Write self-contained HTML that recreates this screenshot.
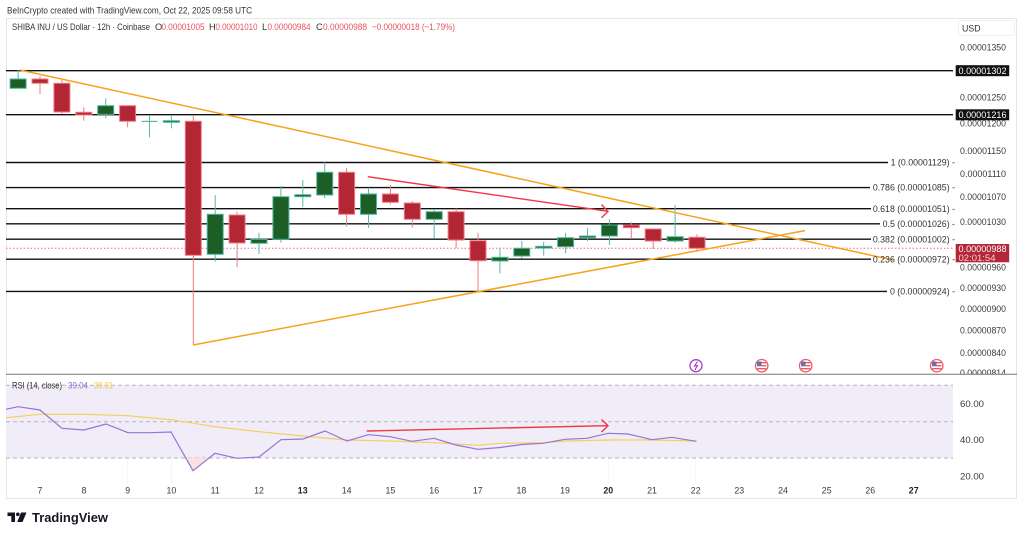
<!DOCTYPE html>
<html><head><meta charset="utf-8"><style>
html,body{margin:0;padding:0;background:#fff;}
svg{display:block;font-family:"Liberation Sans",Arial,sans-serif;}
</style></head><body>
<svg width="1024" height="537" viewBox="0 0 1024 537" xmlns="http://www.w3.org/2000/svg">
<defs>
<clipPath id="pp"><rect x="6" y="18" width="947" height="356"/></clipPath>
<clipPath id="ax"><rect x="953" y="18" width="70" height="356"/></clipPath>
</defs>
<rect width="1024" height="537" fill="#fff"/>
<!-- header -->
<text x="7" y="13.5" font-size="9.5" fill="#333" textLength="245" lengthAdjust="spacingAndGlyphs">BeInCrypto created with TradingView.com, Oct 22, 2025 09:58 UTC</text>
<!-- outer border -->
<rect x="6.5" y="18.5" width="1010" height="480" fill="none" stroke="#e6e6e6" stroke-width="1"/>

<!-- OHLC line -->
<g font-size="9.3">
<text x="12" y="30" fill="#333" textLength="138" lengthAdjust="spacingAndGlyphs">SHIBA INU / US Dollar · 12h · Coinbase</text>
<text x="155" y="30" fill="#333">O</text><text x="161.5" y="30" fill="#e8505c" textLength="43" lengthAdjust="spacingAndGlyphs">0.00001005</text>
<text x="209" y="30" fill="#333">H</text><text x="215.5" y="30" fill="#e8505c" textLength="42" lengthAdjust="spacingAndGlyphs">0.00001010</text>
<text x="262" y="30" fill="#333">L</text><text x="267.5" y="30" fill="#e8505c" textLength="43" lengthAdjust="spacingAndGlyphs">0.00000984</text>
<text x="316" y="30" fill="#333">C</text><text x="323" y="30" fill="#e8505c" textLength="44" lengthAdjust="spacingAndGlyphs">0.00000988</text>
<text x="372" y="30" fill="#e8505c" textLength="83" lengthAdjust="spacingAndGlyphs">−0.00000018 (−1.79%)</text>
</g>

<!-- USD box -->
<rect x="958.5" y="20.5" width="56" height="15" rx="3" fill="#fff" stroke="#f0f0f0"/>
<text x="962" y="31.5" font-size="8.8" fill="#333">USD</text>

<!-- price axis labels -->
<g clip-path="url(#ax)" font-size="8.8" fill="#3a3a3a">
<text x="960" y="50.5" textLength="46" lengthAdjust="spacingAndGlyphs">0.00001350</text>
<text x="960" y="100.5" textLength="46" lengthAdjust="spacingAndGlyphs">0.00001250</text>
<text x="960" y="126.3" textLength="46" lengthAdjust="spacingAndGlyphs">0.00001200</text>
<text x="960" y="154" textLength="46" lengthAdjust="spacingAndGlyphs">0.00001150</text>
<text x="960" y="177.2" textLength="46" lengthAdjust="spacingAndGlyphs">0.00001110</text>
<text x="960" y="200" textLength="46" lengthAdjust="spacingAndGlyphs">0.00001070</text>
<text x="960" y="225" textLength="46" lengthAdjust="spacingAndGlyphs">0.00001030</text>
<text x="960" y="270.5" textLength="46" lengthAdjust="spacingAndGlyphs">0.00000960</text>
<text x="960" y="291" textLength="46" lengthAdjust="spacingAndGlyphs">0.00000930</text>
<text x="960" y="312.2" textLength="46" lengthAdjust="spacingAndGlyphs">0.00000900</text>
<text x="960" y="333.5" textLength="46" lengthAdjust="spacingAndGlyphs">0.00000870</text>
<text x="960" y="356.2" textLength="46" lengthAdjust="spacingAndGlyphs">0.00000840</text>
<text x="960" y="376" textLength="46" lengthAdjust="spacingAndGlyphs">0.00000814</text>
</g>
<!-- price boxes -->
<rect x="955.7" y="65.2" width="53.5" height="11" fill="#111"/>
<text x="958.5" y="74" font-size="8.8" fill="#fff" textLength="48" lengthAdjust="spacingAndGlyphs">0.00001302</text>
<rect x="955.7" y="109.3" width="53.5" height="11" fill="#111"/>
<text x="958.5" y="118" font-size="8.8" fill="#fff" textLength="48" lengthAdjust="spacingAndGlyphs">0.00001216</text>
<rect x="955.7" y="244" width="53.5" height="18.3" fill="#b2283a"/>
<text x="958.5" y="252" font-size="8.8" fill="#fff" textLength="48" lengthAdjust="spacingAndGlyphs">0.00000988</text>
<text x="958.5" y="261" font-size="8.8" fill="#f3d0d4" textLength="37" lengthAdjust="spacingAndGlyphs">02:01:54</text>

<!-- price pane -->
<g clip-path="url(#pp)">
<!-- horizontal price lines -->
<g stroke="#111" stroke-width="1.4">
<line x1="6" y1="70.7" x2="955" y2="70.7"/>
<line x1="6" y1="114.7" x2="955" y2="114.7"/>
<line x1="6" y1="162.5" x2="888" y2="162.5"/>
<line x1="6" y1="187.6" x2="870" y2="187.6"/>
<line x1="6" y1="208.7" x2="871" y2="208.7"/>
<line x1="6" y1="223.8" x2="880" y2="223.8"/>
<line x1="6" y1="239.2" x2="871" y2="239.2"/>
<line x1="6" y1="259.2" x2="871" y2="259.2"/>
<line x1="6" y1="291.4" x2="887" y2="291.4"/>
</g>
<line x1="6" y1="248.3" x2="955" y2="248.3" stroke="#e8707a" stroke-width="1" stroke-dasharray="1.5,2"/>

<!-- candles -->
<g stroke-width="1">
<!-- wicks -->
<g stroke="#5ab8a4">
<line x1="18.1" y1="70" x2="18.1" y2="88.3"/>
<line x1="105.7" y1="98.3" x2="105.7" y2="118.3"/>
<line x1="149.5" y1="115" x2="149.5" y2="137.3"/>
<line x1="171.4" y1="115" x2="171.4" y2="128.3"/>
<line x1="215.2" y1="195" x2="215.2" y2="261.7"/>
<line x1="259" y1="232.7" x2="259" y2="254"/>
<line x1="280.9" y1="186" x2="280.9" y2="242.7"/>
<line x1="302.8" y1="180" x2="302.8" y2="206.7"/>
<line x1="324.7" y1="162.3" x2="324.7" y2="198.3"/>
<line x1="368.5" y1="187.7" x2="368.5" y2="227.7"/>
<line x1="434.2" y1="210" x2="434.2" y2="238.3"/>
<line x1="499.9" y1="247.7" x2="499.9" y2="273.3"/>
<line x1="521.8" y1="241" x2="521.8" y2="258.3"/>
<line x1="543.7" y1="241.7" x2="543.7" y2="255.7"/>
<line x1="565.6" y1="232.7" x2="565.6" y2="253.3"/>
<line x1="587.5" y1="228.3" x2="587.5" y2="241"/>
<line x1="609.4" y1="219.3" x2="609.4" y2="245"/>
<line x1="675.1" y1="205" x2="675.1" y2="242.7"/>
</g>
<g stroke="#f07884">
<line x1="40" y1="76" x2="40" y2="94.3"/>
<line x1="61.9" y1="80" x2="61.9" y2="114"/>
<line x1="83.8" y1="107.3" x2="83.8" y2="120.7"/>
<line x1="127.6" y1="105.7" x2="127.6" y2="127.3"/>
<line x1="193.3" y1="116" x2="193.3" y2="345"/>
<line x1="237.1" y1="211.7" x2="237.1" y2="267.3"/>
<line x1="346.6" y1="167.7" x2="346.6" y2="226.7"/>
<line x1="390.4" y1="185" x2="390.4" y2="204.3"/>
<line x1="412.3" y1="201" x2="412.3" y2="227.7"/>
<line x1="456.1" y1="208.3" x2="456.1" y2="248.3"/>
<line x1="478" y1="232.7" x2="478" y2="291.5"/>
<line x1="631.3" y1="222.3" x2="631.3" y2="239"/>
<line x1="653.2" y1="229" x2="653.2" y2="249"/>
<line x1="697" y1="234.3" x2="697" y2="251.7"/>
</g>
<!-- green bodies -->
<g fill="#1d5e27" stroke="#4db6a0">
<rect x="10.1" y="79" width="16" height="9.3"/>
<rect x="97.7" y="105.7" width="16" height="8.6"/>
<rect x="163.4" y="120.7" width="16" height="1.6"/>
<rect x="207.2" y="214.3" width="16" height="40"/>
<rect x="251" y="239.3" width="16" height="4"/>
<rect x="272.9" y="196.7" width="16" height="42.6"/>
<rect x="294.8" y="194.7" width="16" height="2"/>
<rect x="316.7" y="172.3" width="16" height="22.7"/>
<rect x="360.5" y="194" width="16" height="20.3"/>
<rect x="426.2" y="211.7" width="16" height="7.6"/>
<rect x="491.9" y="257.3" width="16" height="3.7"/>
<rect x="513.8" y="248.3" width="16" height="7.7"/>
<rect x="535.7" y="246.3" width="16" height="1.7"/>
<rect x="557.6" y="237.7" width="16" height="9"/>
<rect x="579.5" y="236" width="16" height="1.7"/>
<rect x="601.4" y="225" width="16" height="11"/>
<rect x="667.1" y="236.7" width="16" height="4.3"/>
</g>
<rect x="141.5" y="120.8" width="16" height="1.2" fill="#5ab8a4"/>
<!-- red bodies -->
<g fill="#b32735" stroke="#f27a86">
<rect x="32" y="79" width="16" height="4.3"/>
<rect x="53.9" y="83.3" width="16" height="28.7"/>
<rect x="75.8" y="112.3" width="16" height="2.7"/>
<rect x="119.6" y="105.7" width="16" height="15.6"/>
<rect x="185.3" y="121.3" width="16" height="134"/>
<rect x="229.1" y="215" width="16" height="28"/>
<rect x="338.6" y="172.3" width="16" height="42"/>
<rect x="382.4" y="194" width="16" height="8.3"/>
<rect x="404.3" y="203" width="16" height="16.3"/>
<rect x="448.1" y="211.7" width="16" height="28.3"/>
<rect x="470" y="240.7" width="16" height="20"/>
<rect x="623.3" y="225" width="16" height="2.7"/>
<rect x="645.2" y="229" width="16" height="12"/>
<rect x="689" y="237.3" width="16" height="11"/>
</g>
</g>

<!-- trend lines -->
<g stroke="#f7a21b" stroke-width="1.5" fill="none">
<line x1="20" y1="70" x2="893" y2="260"/>
<line x1="193" y1="345" x2="805" y2="230.6"/>
</g>
<!-- red arrow -->
<g stroke="#f23645" stroke-width="1.4" fill="none">
<line x1="367.7" y1="176.7" x2="607" y2="211.2"/>
<polyline points="601.5,204.5 608,211.5 601.5,217.7"/>
</g>
</g>

<!-- fib labels -->
<g font-size="8.8" fill="#333" text-anchor="end">
<text x="955" y="165.6">1 (0.00001129) -</text>
<text x="955" y="190.7">0.786 (0.00001085) -</text>
<text x="955" y="211.8">0.618 (0.00001051) -</text>
<text x="955" y="226.9">0.5 (0.00001026) -</text>
<text x="955" y="242.3">0.382 (0.00001002) -</text>
<text x="955" y="262.3">0.236 (0.00000972) -</text>
<text x="955" y="294.5">0 (0.00000924) -</text>
</g>

<!-- event icons -->
<g>
<circle cx="696" cy="365.7" r="6" fill="#fff" stroke="#a040c8" stroke-width="1.3"/>
<polyline points="697.5,361.5 694.5,366 697.5,365.5 694.8,370" fill="none" stroke="#a040c8" stroke-width="1.1"/>
<g id="fl">
<circle cx="761.7" cy="365.7" r="6.2" fill="#fff" stroke="#f05a66" stroke-width="1.3"/>
<rect x="757" y="362" width="9.4" height="1.4" fill="#f05a66"/>
<rect x="757" y="365" width="9.4" height="1.4" fill="#f05a66"/>
<rect x="757" y="368" width="9.4" height="1.4" fill="#f05a66"/>
<rect x="757" y="361.5" width="4.5" height="4" fill="#4a78c8"/>
</g>
<use href="#fl" x="44"/>
<use href="#fl" x="175"/>
</g>

<!-- separator -->
<line x1="6" y1="374.3" x2="1017" y2="374.3" stroke="#777" stroke-width="1"/>

<!-- RSI pane -->
<rect x="6" y="385.3" width="947" height="72.7" fill="#f0ecf8"/>
<g stroke="#f4f4f4" stroke-width="1">
<line x1="127.7" y1="458" x2="127.7" y2="484"/>
<line x1="171.4" y1="458" x2="171.4" y2="484"/>
<line x1="608.3" y1="458" x2="608.3" y2="484"/>
<line x1="695.7" y1="458" x2="695.7" y2="484"/>
</g>
<g stroke="#b5b5b5" stroke-width="1" stroke-dasharray="4,3">
<line x1="6" y1="385.3" x2="953" y2="385.3"/>
<line x1="6" y1="421.7" x2="953" y2="421.7"/>
<line x1="6" y1="458" x2="953" y2="458"/>
</g>
<polygon points="185.8,458 193,470.7 209,458" fill="#fbe2de"/>
<polyline fill="none" stroke="#f5cf5a" stroke-width="1.2" points="6,417.7 40,414.3 84,414.3 128,415.7 171,419.7 215,426.7 259,431.7 303,436 347,440 390,441 434,442.7 478,445.3 500,443.3 544,442.7 566,441 609,440 653,440 697,441"/>
<polyline fill="none" stroke="#9575d6" stroke-width="1.2" points="6,409.3 18,406.7 40,410 62,428.3 84,430 106,424 128,432.7 150,432.7 171,432 193,470.7 215,453.3 237,458.3 259,457 281,439.7 303,439 325,431 347,441 368.5,434.7 390,436.7 412,441.3 434,438.3 456,445 478,449.3 500,447.5 522,444.5 543,443.3 565,439.3 587,438.3 608,433.3 628,434 652,439.7 672,437.3 696,441.3"/>
<g stroke="#f23645" stroke-width="1.4" fill="none">
<line x1="366.7" y1="431" x2="607" y2="425.7"/>
<polyline points="601.5,419.5 608,425.7 601.5,432"/>
</g>
<text x="12" y="388.5" font-size="8.8" fill="#333" textLength="50" lengthAdjust="spacingAndGlyphs">RSI (14, close)</text>
<text x="68" y="388.5" font-size="8.8" fill="#8a6cd0" textLength="20" lengthAdjust="spacingAndGlyphs">39.04</text>
<text x="94" y="388.5" font-size="8.8" fill="#f5c842" textLength="19" lengthAdjust="spacingAndGlyphs">39.31</text>
<g font-size="8.8" fill="#3a3a3a">
<text x="960" y="407" textLength="24" lengthAdjust="spacingAndGlyphs">60.00</text>
<text x="960" y="443.2" textLength="24" lengthAdjust="spacingAndGlyphs">40.00</text>
<text x="960" y="479.3" textLength="24" lengthAdjust="spacingAndGlyphs">20.00</text>
</g>

<!-- time axis -->
<g font-size="8.8" fill="#3a3a3a" text-anchor="middle">
<text x="40" y="493.5">7</text>
<text x="84" y="493.5">8</text>
<text x="127.7" y="493.5">9</text>
<text x="171.4" y="493.5">10</text>
<text x="215.2" y="493.5">11</text>
<text x="259" y="493.5">12</text>
<text x="302.7" y="493.5" font-weight="bold" fill="#222">13</text>
<text x="346.6" y="493.5">14</text>
<text x="390.4" y="493.5">15</text>
<text x="434.2" y="493.5">16</text>
<text x="477.8" y="493.5">17</text>
<text x="521.4" y="493.5">18</text>
<text x="565" y="493.5">19</text>
<text x="608.3" y="493.5" font-weight="bold" fill="#222">20</text>
<text x="652" y="493.5">21</text>
<text x="695.7" y="493.5">22</text>
<text x="739.3" y="493.5">23</text>
<text x="783" y="493.5">24</text>
<text x="826.7" y="493.5">25</text>
<text x="870.3" y="493.5">26</text>
<text x="913.7" y="493.5" font-weight="bold" fill="#222">27</text>
</g>

<!-- TradingView logo -->
<g fill="#131722">
<rect x="7.5" y="512.5" width="7.5" height="3.6"/>
<rect x="11.3" y="512.5" width="3.7" height="9.5"/>
<circle cx="17.8" cy="514.3" r="1.8"/>
<polygon points="21,512.5 26.5,512.5 22.5,522 17.2,522"/>
</g>
<text x="32" y="522" font-size="13" font-weight="bold" fill="#131722" textLength="76" lengthAdjust="spacingAndGlyphs">TradingView</text>
</svg>
</body></html>
